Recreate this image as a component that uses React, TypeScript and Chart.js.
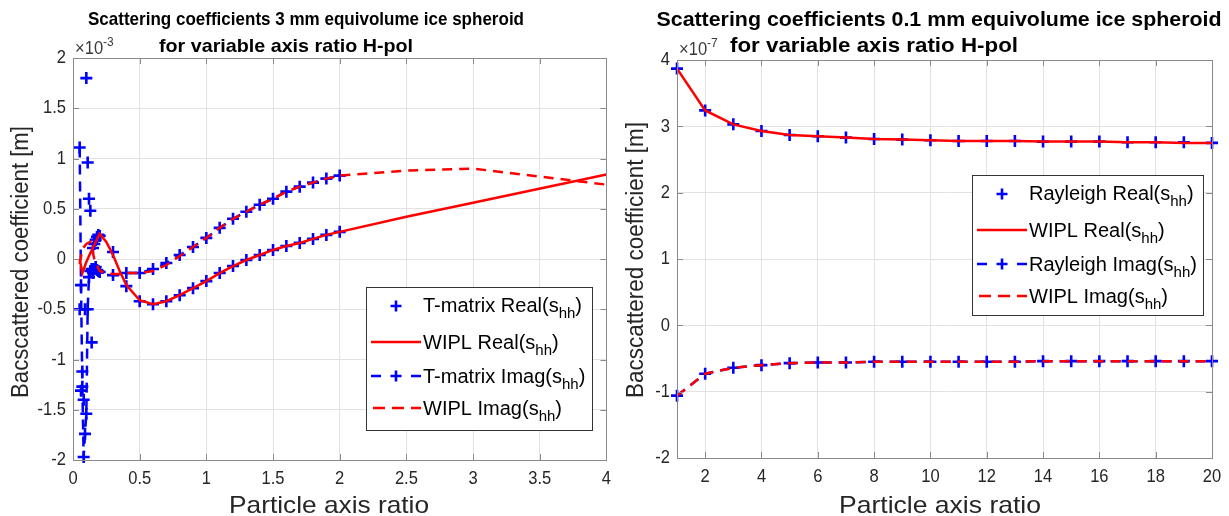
import React, { useEffect, useRef } from "react";
import { Chart, registerables } from "chart.js";
Chart.register(...registerables);

// ---------------- Left panel data (values in units of 1e-3 m) ----------------
const tmatrixX = [0.05, 0.06, 0.07, 0.08, 0.09, 0.10, 0.11, 0.12, 0.13, 0.14, 0.15, 0.16, 0.17, 0.18, 0.19, 0.20,
  0.3, 0.4, 0.5, 0.6, 0.7, 0.8, 0.9, 1.0, 1.1, 1.2, 1.3, 1.4, 1.5, 1.6, 1.7, 1.8, 1.9, 2.0];
const tmatrixReal = [-0.5, -1.31, -1.12, -1.4, -0.5, 1.8, 0.96, 0.6, 0.48, -0.83, 0.11, 0.15, 0.19, 0.22, 0.24, 0.23,
  0.07, -0.27, -0.42, -0.45, -0.42, -0.36, -0.29, -0.22, -0.14, -0.07, -0.01, 0.04, 0.09, 0.13, 0.16, 0.2, 0.24, 0.27];
const tmatrixImag = [1.11, -0.26, -1.27, -1.97, -1.74, -1.54, -0.5, -0.18, -0.12, -0.1, -0.14, -0.1, -0.08, -0.11, -0.12, -0.13,
  -0.16, -0.14, -0.14, -0.1, -0.04, 0.04, 0.12, 0.21, 0.31, 0.4, 0.47, 0.54, 0.6, 0.67, 0.72, 0.76, 0.8, 0.83];
const wiplLeftX = [0.05, 0.07, 0.1, 0.13, 0.16, 0.2, 0.25, 0.3, 0.35, 0.4, 0.5, 0.6, 0.7, 0.8, 0.9, 1.0,
  1.1, 1.2, 1.3, 1.4, 1.5, 1.6, 1.7, 1.8, 1.9, 2.0, 2.5, 3.0, 4.0];
const wiplLeftReal = [0.0, -0.14, -0.03, 0.06, 0.14, 0.25, 0.17, 0.04, -0.12, -0.26, -0.41, -0.45, -0.42, -0.36, -0.29, -0.22,
  -0.14, -0.07, -0.01, 0.04, 0.09, 0.13, 0.16, 0.2, 0.24, 0.27, 0.42, 0.56, 0.84];
const wiplLeftImag = [-0.05, 0.1, 0.15, 0.17, 0.0, -0.12, -0.14, -0.15, -0.15, -0.14, -0.14, -0.12, -0.06, 0.03, 0.12, 0.21,
  0.31, 0.4, 0.47, 0.54, 0.6, 0.67, 0.72, 0.76, 0.8, 0.83, 0.88, 0.9, 0.74];
const leftXTicks = [0, 0.5, 1, 1.5, 2, 2.5, 3, 3.5, 4];
const leftYTicks = [-2, -1.5, -1, -0.5, 0, 0.5, 1, 1.5, 2];

// ---------------- Right panel data (values in units of 1e-7 m) ----------------
const ratioX = [1, 2, 3, 4, 5, 6, 7, 8, 9, 10, 11, 12, 13, 14, 15, 16, 17, 18, 19, 20];
const rayleighReal = [3.87, 3.24, 3.03, 2.93, 2.87, 2.85, 2.83, 2.81, 2.8, 2.79, 2.78, 2.78, 2.78, 2.77, 2.77, 2.77, 2.76, 2.76, 2.76, 2.75];
const wiplRightReal = [3.87, 3.24, 3.03, 2.93, 2.87, 2.85, 2.83, 2.81, 2.8, 2.79, 2.78, 2.78, 2.78, 2.77, 2.77, 2.77, 2.76, 2.76, 2.75, 2.75];
const rayleighImag = [-1.06, -0.73, -0.64, -0.6, -0.57, -0.56, -0.56, -0.55, -0.55, -0.55, -0.55, -0.55, -0.55, -0.54, -0.54, -0.54, -0.54, -0.54, -0.54, -0.54];
const wiplRightImag = [-1.06, -0.73, -0.64, -0.6, -0.57, -0.56, -0.56, -0.55, -0.55, -0.55, -0.55, -0.55, -0.55, -0.54, -0.54, -0.54, -0.54, -0.54, -0.54, -0.54];
const rightXTicks = [2, 4, 6, 8, 10, 12, 14, 16, 18, 20];
const rightYTicks = [-2, -1, 0, 1, 2, 3, 4];

const leftLegend = ["T-matrix Real", "WIPL Real", "T-matrix Imag", "WIPL Imag"];
const rightLegend = ["Rayleigh Real", "WIPL Real", "Rayleigh Imag", "WIPL Imag"];

// ---------------- styling ----------------
const FONT = "'Liberation Sans', Arial, Helvetica, sans-serif";
const BLUE = "#0000ff";
const RED = "#ff0000";
const DASH = [10, 7];

type Part = { t: string; size: number; bold?: boolean; dy?: number };
const fontOf = (p: Part) => `${p.bold ? "bold " : ""}${p.size}px ${FONT}`;

function partsWidth(ctx: CanvasRenderingContext2D, parts: Part[]) {
  let w = 0;
  for (const p of parts) {
    ctx.font = fontOf(p);
    w += ctx.measureText(p.t).width;
  }
  return w;
}

function drawParts(ctx: CanvasRenderingContext2D, parts: Part[], x: number, y: number, sx: number,
  align: "left" | "center" | "right", color: string, baseline: CanvasTextBaseline = "alphabetic") {
  const w = partsWidth(ctx, parts) * sx;
  const start = align === "left" ? x : align === "center" ? x - w / 2 : x - w;
  ctx.save();
  ctx.translate(start, y);
  ctx.scale(sx, 1);
  ctx.fillStyle = color;
  ctx.textAlign = "left";
  ctx.textBaseline = baseline;
  let cx = 0;
  for (const p of parts) {
    ctx.font = fontOf(p);
    ctx.fillText(p.t, cx, p.dy || 0);
    cx += ctx.measureText(p.t).width;
  }
  ctx.restore();
}

function fitScale(ctx: CanvasRenderingContext2D, parts: Part[], target: number) {
  return target / partsWidth(ctx, parts);
}

const pts = (xs: number[], ys: number[]) => xs.map((x, i) => ({ x, y: ys[i] }));

function drawCross(ctx: CanvasRenderingContext2D, x: number, y: number, r: number) {
  ctx.beginPath();
  ctx.moveTo(x - r, y); ctx.lineTo(x + r, y);
  ctx.moveTo(x, y - r); ctx.lineTo(x, y + r);
  ctx.stroke();
}

type Decor = {
  offset: number;
  titleSize: number;
  title1: { text: string; cx: number; y: number; w: number };
  title2: { text: string; cx: number; y: number; w: number };
  exp: { x: number; y: number; text: string };
  xlabel: { cx: number; y: number; w: number };
  ylabel: { cx: number; cy: number; len: number };
  legend: { x: number; y: number; w: number; h: number; rows: number[]; labels: string[] };
};

function makeDecor(d: Decor) {
  return {
    id: "decor",
    afterDraw(chart: any) {
      const ctx: CanvasRenderingContext2D = chart.ctx;
      const ca = chart.chartArea;
      const xs = chart.scales.x;
      const ys = chart.scales.y;
      const o = d.offset;
      ctx.save();
      // axes box
      ctx.strokeStyle = "#8a8a8a";
      ctx.lineWidth = 1;
      ctx.setLineDash([]);
      ctx.strokeRect(Math.round(ca.left) + 0.5, Math.round(ca.top) + 0.5, Math.round(ca.right - ca.left), Math.round(ca.bottom - ca.top));
      // inward ticks
      ctx.beginPath();
      for (const t of xs.ticks) {
        const px = Math.round(xs.getPixelForValue(t.value)) + 0.5;
        ctx.moveTo(px, ca.bottom); ctx.lineTo(px, ca.bottom - 6);
        ctx.moveTo(px, ca.top); ctx.lineTo(px, ca.top + 6);
      }
      for (const t of ys.ticks) {
        const py = Math.round(ys.getPixelForValue(t.value)) + 0.5;
        ctx.moveTo(ca.left, py); ctx.lineTo(ca.left + 6, py);
        ctx.moveTo(ca.right, py); ctx.lineTo(ca.right - 6, py);
      }
      ctx.stroke();
      // tick labels
      for (const t of xs.ticks) {
        const px = xs.getPixelForValue(t.value);
        drawParts(ctx, [{ t: String(t.value), size: 19 }], px, ca.bottom + 9, 0.87, "center", "#262626", "top");
      }
      for (const t of ys.ticks) {
        const py = ys.getPixelForValue(t.value);
        drawParts(ctx, [{ t: String(t.value), size: 19 }], ca.left - 7, py, 0.87, "right", "#262626", "middle");
      }
      // exponent
      drawParts(ctx, [{ t: "×10", size: 18 }, { t: d.exp.text, size: 13, dy: -8 }], d.exp.x - o, d.exp.y, 0.92, "left", "#3a3a3a");
      // titles
      const t1: Part[] = [{ t: d.title1.text, size: d.titleSize, bold: true }];
      drawParts(ctx, t1, d.title1.cx - o, d.title1.y, fitScale(ctx, t1, d.title1.w), "center", "#000");
      const t2: Part[] = [{ t: d.title2.text, size: d.titleSize, bold: true }];
      drawParts(ctx, t2, d.title2.cx - o, d.title2.y, fitScale(ctx, t2, d.title2.w), "center", "#000");
      // axis labels
      const xl: Part[] = [{ t: "Particle axis ratio", size: 24 }];
      drawParts(ctx, xl, d.xlabel.cx - o, d.xlabel.y, fitScale(ctx, xl, d.xlabel.w), "center", "#262626");
      const yl: Part[] = [{ t: "Bacscattered coefficient [m]", size: 23 }];
      ctx.save();
      ctx.translate(d.ylabel.cx - o, d.ylabel.cy);
      ctx.rotate(-Math.PI / 2);
      drawParts(ctx, yl, 0, 0, fitScale(ctx, yl, d.ylabel.len), "center", "#262626", "middle");
      ctx.restore();
      // legend
      const L = d.legend;
      const lx = L.x - o;
      ctx.fillStyle = "#ffffff";
      ctx.fillRect(lx, L.y, L.w, L.h);
      ctx.strokeStyle = "#333333";
      ctx.lineWidth = 1;
      ctx.strokeRect(lx + 0.5, L.y + 0.5, L.w, L.h);
      const labelParts = (s: string): Part[] => [{ t: s + "(s", size: 20 }, { t: "hh", size: 15, dy: 6 }, { t: ")", size: 20 }];
      const sxL = fitScale(ctx, labelParts("T-matrix Real"), 159);
      L.labels.forEach((lab, i) => {
        const ry = L.rows[i];
        const x0 = lx + 5, x1 = lx + 55, xm = lx + 30;
        ctx.lineWidth = 2.5;
        if (i === 0) {
          ctx.strokeStyle = BLUE; ctx.lineWidth = 2.6;
          drawCross(ctx, xm, ry + 1, 5.5);
        } else if (i === 1) {
          ctx.strokeStyle = RED;
          ctx.beginPath(); ctx.moveTo(x0, ry); ctx.lineTo(x1, ry); ctx.stroke();
        } else if (i === 2) {
          ctx.strokeStyle = BLUE;
          ctx.beginPath();
          ctx.moveTo(x0, ry); ctx.lineTo(x0 + 10, ry);
          ctx.moveTo(x1 - 10, ry); ctx.lineTo(x1, ry);
          ctx.stroke();
          ctx.lineWidth = 2.6;
          drawCross(ctx, xm, ry, 5.5);
        } else {
          ctx.strokeStyle = RED;
          ctx.beginPath();
          ctx.moveTo(x0 + 2, ry); ctx.lineTo(x0 + 14, ry);
          ctx.moveTo(x0 + 21, ry); ctx.lineTo(x0 + 33, ry);
          ctx.moveTo(x0 + 40, ry); ctx.lineTo(x1, ry);
          ctx.stroke();
        }
        drawParts(ctx, labelParts(lab), lx + 57, ry + 7, sxL, "left", "#000");
      });
      ctx.restore();
    },
  };
}

function makeChart(canvas: HTMLCanvasElement, datasets: any[], xT: number[], yT: number[],
  xMin: number, xMax: number, yMin: number, yMax: number,
  area: { yw: number; xh: number; top: number; right: number }, decor: any) {
  return new Chart(canvas, {
    type: "scatter",
    data: { datasets },
    options: {
      animation: false,
      responsive: false,
      events: [],
      layout: { padding: { left: 0, right: area.right, top: area.top, bottom: 0 } },
      plugins: { legend: { display: false }, tooltip: { enabled: false }, title: { display: false } },
      scales: {
        x: {
          type: "linear", min: xMin, max: xMax,
          afterBuildTicks: (s: any) => { s.ticks = xT.map((v) => ({ value: v })); },
          afterFit: (s: any) => { s.height = area.xh; },
          ticks: { display: false },
          grid: { color: "#e2e2e2", lineWidth: 1, drawTicks: false },
          border: { display: false },
        },
        y: {
          type: "linear", min: yMin, max: yMax,
          afterBuildTicks: (s: any) => { s.ticks = yT.map((v) => ({ value: v })); },
          afterFit: (s: any) => { s.width = area.yw; },
          ticks: { display: false },
          grid: { color: "#e2e2e2", lineWidth: 1, drawTicks: false },
          border: { display: false },
        },
      },
    } as any,
    plugins: [decor],
  });
}

const lineDs = (data: any[], color: string, dashed: boolean) => ({
  data, showLine: true, borderColor: color, borderWidth: 2.5, borderDash: dashed ? DASH : [],
  pointRadius: 0, clip: false,
});
const markerDs = (data: any[], withLine: boolean) => ({
  data, showLine: withLine, borderColor: BLUE, borderWidth: 2.5, borderDash: DASH,
  pointStyle: "cross", pointRadius: 6, pointBorderWidth: 2.6, pointBorderColor: BLUE,
  pointBackgroundColor: BLUE, clip: false,
});

export default function App() {
  const leftRef = useRef<HTMLCanvasElement>(null);
  const rightRef = useRef<HTMLCanvasElement>(null);

  useEffect(() => {
    document.body.style.margin = "0";
    const left = makeChart(
      leftRef.current!,
      [
        lineDs(pts(wiplLeftX, wiplLeftReal), RED, false),
        lineDs(pts(wiplLeftX, wiplLeftImag), RED, true),
        markerDs(pts(tmatrixX, tmatrixReal), false),
        markerDs(pts(tmatrixX, tmatrixImag), true),
      ],
      leftXTicks, leftYTicks, 0, 4, -2, 2,
      { yw: 73, xh: 56, top: 58, right: 8 },
      makeDecor({
        offset: 0,
        titleSize: 19,
        title1: { text: "Scattering coefficients 3 mm equivolume ice spheroid", cx: 306, y: 25, w: 436 },
        title2: { text: "for variable axis ratio H-pol", cx: 286, y: 52, w: 254 },
        exp: { x: 75, y: 54, text: "-3" },
        xlabel: { cx: 329, y: 513, w: 200 },
        ylabel: { cx: 22, cy: 262, len: 272 },
        legend: { x: 366, y: 287, w: 226, h: 143, rows: [305, 342, 376, 408], labels: leftLegend },
      })
    );
    const right = makeChart(
      rightRef.current!,
      [
        lineDs(pts(ratioX, wiplRightReal), RED, false),
        lineDs(pts(ratioX, wiplRightImag), RED, true),
        markerDs(pts(ratioX, rayleighReal), false),
        markerDs(pts(ratioX, rayleighImag), true),
      ],
      rightXTicks, rightYTicks, 1, 20, -2, 4,
      { yw: 62, xh: 58, top: 60, right: 17 },
      makeDecor({
        offset: 615,
        titleSize: 21,
        title1: { text: "Scattering coefficients 0.1 mm equivolume ice spheroid", cx: 939, y: 26, w: 565 },
        title2: { text: "for variable axis ratio H-pol", cx: 874, y: 52, w: 288 },
        exp: { x: 679, y: 55, text: "-7" },
        xlabel: { cx: 940, y: 513, w: 202 },
        ylabel: { cx: 637, cy: 260, len: 276 },
        legend: { x: 972, y: 175, w: 231, h: 140, rows: [193, 230, 264, 296], labels: rightLegend },
      })
    );
    return () => { left.destroy(); right.destroy(); };
  }, []);

  return (
    <div style={{ position: "relative", width: 1229, height: 516, background: "#fff", overflow: "hidden" }}>
      <canvas ref={leftRef} width={615} height={516} style={{ position: "absolute", left: 0, top: 0, width: 615, height: 516 }} />
      <canvas ref={rightRef} width={614} height={516} style={{ position: "absolute", left: 615, top: 0, width: 614, height: 516 }} />
    </div>
  );
}
